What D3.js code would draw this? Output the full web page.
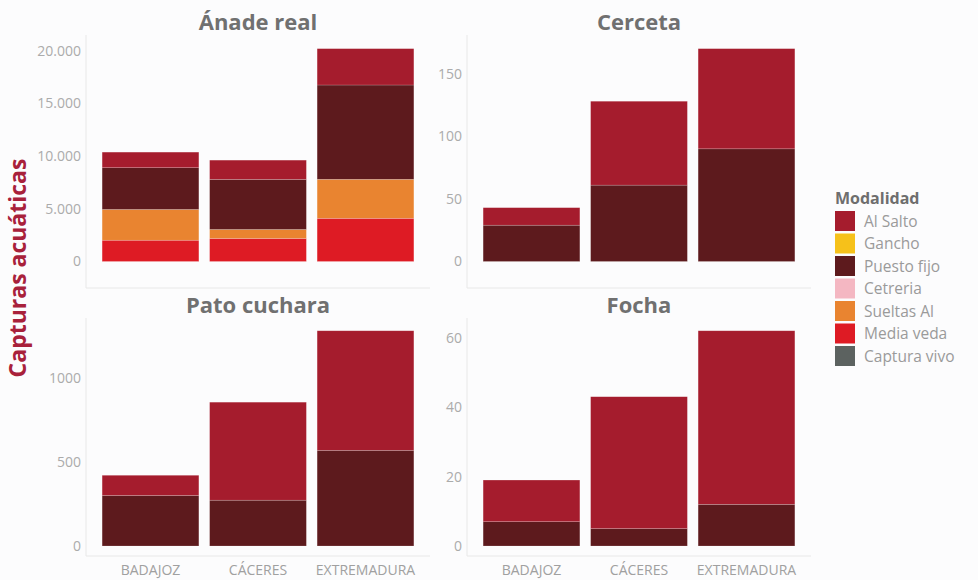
<!DOCTYPE html>
<html>
<head>
<meta charset="utf-8">
<script src="https://cdn.jsdelivr.net/npm/d3@7"></script>
<style>
  html, body { margin: 0; padding: 0; background: #fcfcfd; }
  svg { display: block; }
  text { font-family: "Open Sans", "Noto Sans", sans-serif; }
</style>
</head>
<body>
<svg id="chart" width="978" height="580"></svg>
<script>
// ---- Data ----
const regions = ["BADAJOZ", "CÁCERES", "EXTREMADURA"];
const modalidades = ["Al Salto", "Gancho", "Puesto fijo", "Cetreria", "Sueltas Al", "Media veda", "Captura vivo"];
const modalidadColors = ["#a51c2d", "#f6c11a", "#5d1a1d", "#f4b7c2", "#e98430", "#de1b24", "#5c6260"];
const species = ["Ánade real", "Cerceta", "Pato cuchara", "Focha"];

// values per region (BADAJOZ, CÁCERES, EXTREMADURA)
const anadeAlSalto    = [1480, 1830, 3450];
const anadePuestoFijo = [3960, 4750, 8950];
const anadeSueltasAl  = [2920, 850, 3700];
const anadeMediaVeda  = [2020, 2190, 4100];

const cercetaAlSalto    = [14, 67, 80];
const cercetaPuestoFijo = [29, 61, 90];

const patoAlSalto    = [120, 582, 710];
const patoPuestoFijo = [300, 272, 568];

const fochaAlSalto    = [12, 38, 50];
const fochaPuestoFijo = [7, 5, 12];

const zeros = [0, 0, 0];

const anadeTicks   = [0, 5000, 10000, 15000, 20000];
const cercetaTicks = [0, 50, 100, 150];
const patoTicks    = [0, 500, 1000];
const fochaTicks   = [0, 20, 40, 60];

// build series table per species
function table(alSalto, puesto, sueltas, media) {
  return regions.map((r, i) => ({
    region: r,
    "Al Salto": alSalto[i],
    "Gancho": zeros[i],
    "Puesto fijo": puesto[i],
    "Cetreria": zeros[i],
    "Sueltas Al": sueltas[i],
    "Media veda": media[i],
    "Captura vivo": zeros[i]
  }));
}
const panelsData = [
  { title: species[0], rows: table(anadeAlSalto, anadePuestoFijo, anadeSueltasAl, anadeMediaVeda), ticks: anadeTicks, fmt: d => d3.format(",")(d).replace(/,/g, ".") },
  { title: species[1], rows: table(cercetaAlSalto, cercetaPuestoFijo, zeros, zeros), ticks: cercetaTicks, fmt: d => String(d) },
  { title: species[2], rows: table(patoAlSalto, patoPuestoFijo, zeros, zeros), ticks: patoTicks, fmt: d => String(d) },
  { title: species[3], rows: table(fochaAlSalto, fochaPuestoFijo, zeros, zeros), ticks: fochaTicks, fmt: d => String(d) }
];

// ---- Layout ----
const svg = d3.select("#chart");
const color = d3.scaleOrdinal().domain(modalidades).range(modalidadColors);
const colsX = [[86, 430], [467, 811]];
const rowsY = [
  { zero: 261.5, top: 38, axisTop: 35, axisBottom: 288, titleY: 30 },
  { zero: 546, top: 320, axisTop: 318, axisBottom: 556, titleY: 313 }
];
const stackOrder = modalidades.slice().reverse(); // bottom -> top
const stack = d3.stack().keys(stackOrder);

panelsData.forEach((p, idx) => {
  const col = colsX[idx % 2];
  const row = rowsY[Math.floor(idx / 2)];
  const g = svg.append("g");

  const x = d3.scaleBand().domain(regions).range(col).paddingInner(0.1).paddingOuter(0.15);
  const maxTotal = d3.max(p.rows, r => d3.sum(modalidades, m => r[m]));
  const y = d3.scaleLinear().domain([0, maxTotal * 1.05]).range([row.zero, row.top]);

  // axis lines
  g.append("line").attr("x1", col[0]).attr("x2", col[0]).attr("y1", row.axisTop).attr("y2", row.axisBottom)
    .attr("stroke", "#e8e8e8").attr("stroke-width", 1);
  g.append("line").attr("x1", col[0]).attr("x2", col[1]).attr("y1", row.axisBottom).attr("y2", row.axisBottom)
    .attr("stroke", "#e8e8e8").attr("stroke-width", 1);

  // y axis
  const yAxis = d3.axisLeft(y).tickValues(p.ticks).tickFormat(p.fmt).tickSize(0).tickPadding(5);
  const ya = g.append("g").attr("transform", `translate(${col[0]},0)`).call(yAxis);
  ya.select(".domain").remove();
  ya.selectAll("text").attr("fill", "#ababab").style("font-size", "14px").attr("font-family", "Open Sans");

  // bars
  const series = stack(p.rows);
  g.selectAll("g.s").data(series).join("g").attr("class", "s")
    .attr("fill", d => color(d.key))
    .selectAll("rect").data(d => d).join("rect")
    .attr("x", d => x(d.data.region))
    .attr("width", x.bandwidth())
    .attr("y", d => y(d[1]))
    .attr("height", d => Math.max(0, y(d[0]) - y(d[1])))
    .attr("stroke", d => (d[1] - d[0]) > 0 ? "rgba(255,255,255,0.3)" : "none")
    .attr("stroke-width", 0.6);

  // title
  g.append("text").attr("x", (col[0] + col[1]) / 2).attr("y", row.titleY)
    .attr("text-anchor", "middle").attr("fill", "#707070")
    .style("font-size", "22px").style("font-weight", "bold").text(p.title);

  // x axis labels on bottom row
  if (idx >= 2) {
    const xAxis = d3.axisBottom(x).tickSize(0).tickPadding(9);
    const xa = g.append("g").attr("transform", `translate(0,${row.axisBottom})`).call(xAxis);
    xa.select(".domain").remove();
    xa.selectAll("text").attr("fill", "#a0a0a0").style("font-size", "14px").attr("font-family", "Open Sans");
  }
});

// y axis title
svg.append("text")
  .attr("transform", "translate(26,268) rotate(-90)")
  .attr("text-anchor", "middle")
  .attr("fill", "#a8213b")
  .style("font-size", "23px").style("font-weight", "bold")
  .text("Capturas acuáticas");

// legend
const lg = svg.append("g").attr("transform", "translate(835,0)");
lg.append("text").attr("x", 0).attr("y", 204).attr("fill", "#6e6e6e")
  .style("font-size", "16px").style("font-weight", "bold").text("Modalidad");
const items = lg.selectAll("g.item").data(modalidades).join("g").attr("class", "item")
  .attr("transform", (d, i) => `translate(0,${211 + i * 22.5})`);
items.append("rect").attr("width", 20).attr("height", 20).attr("fill", d => color(d));
items.append("text").attr("x", 29).attr("y", 15.5).attr("fill", "#9a9a9a")
  .style("font-size", "15.5px").text(d => d);
</script>
</body>
</html>
